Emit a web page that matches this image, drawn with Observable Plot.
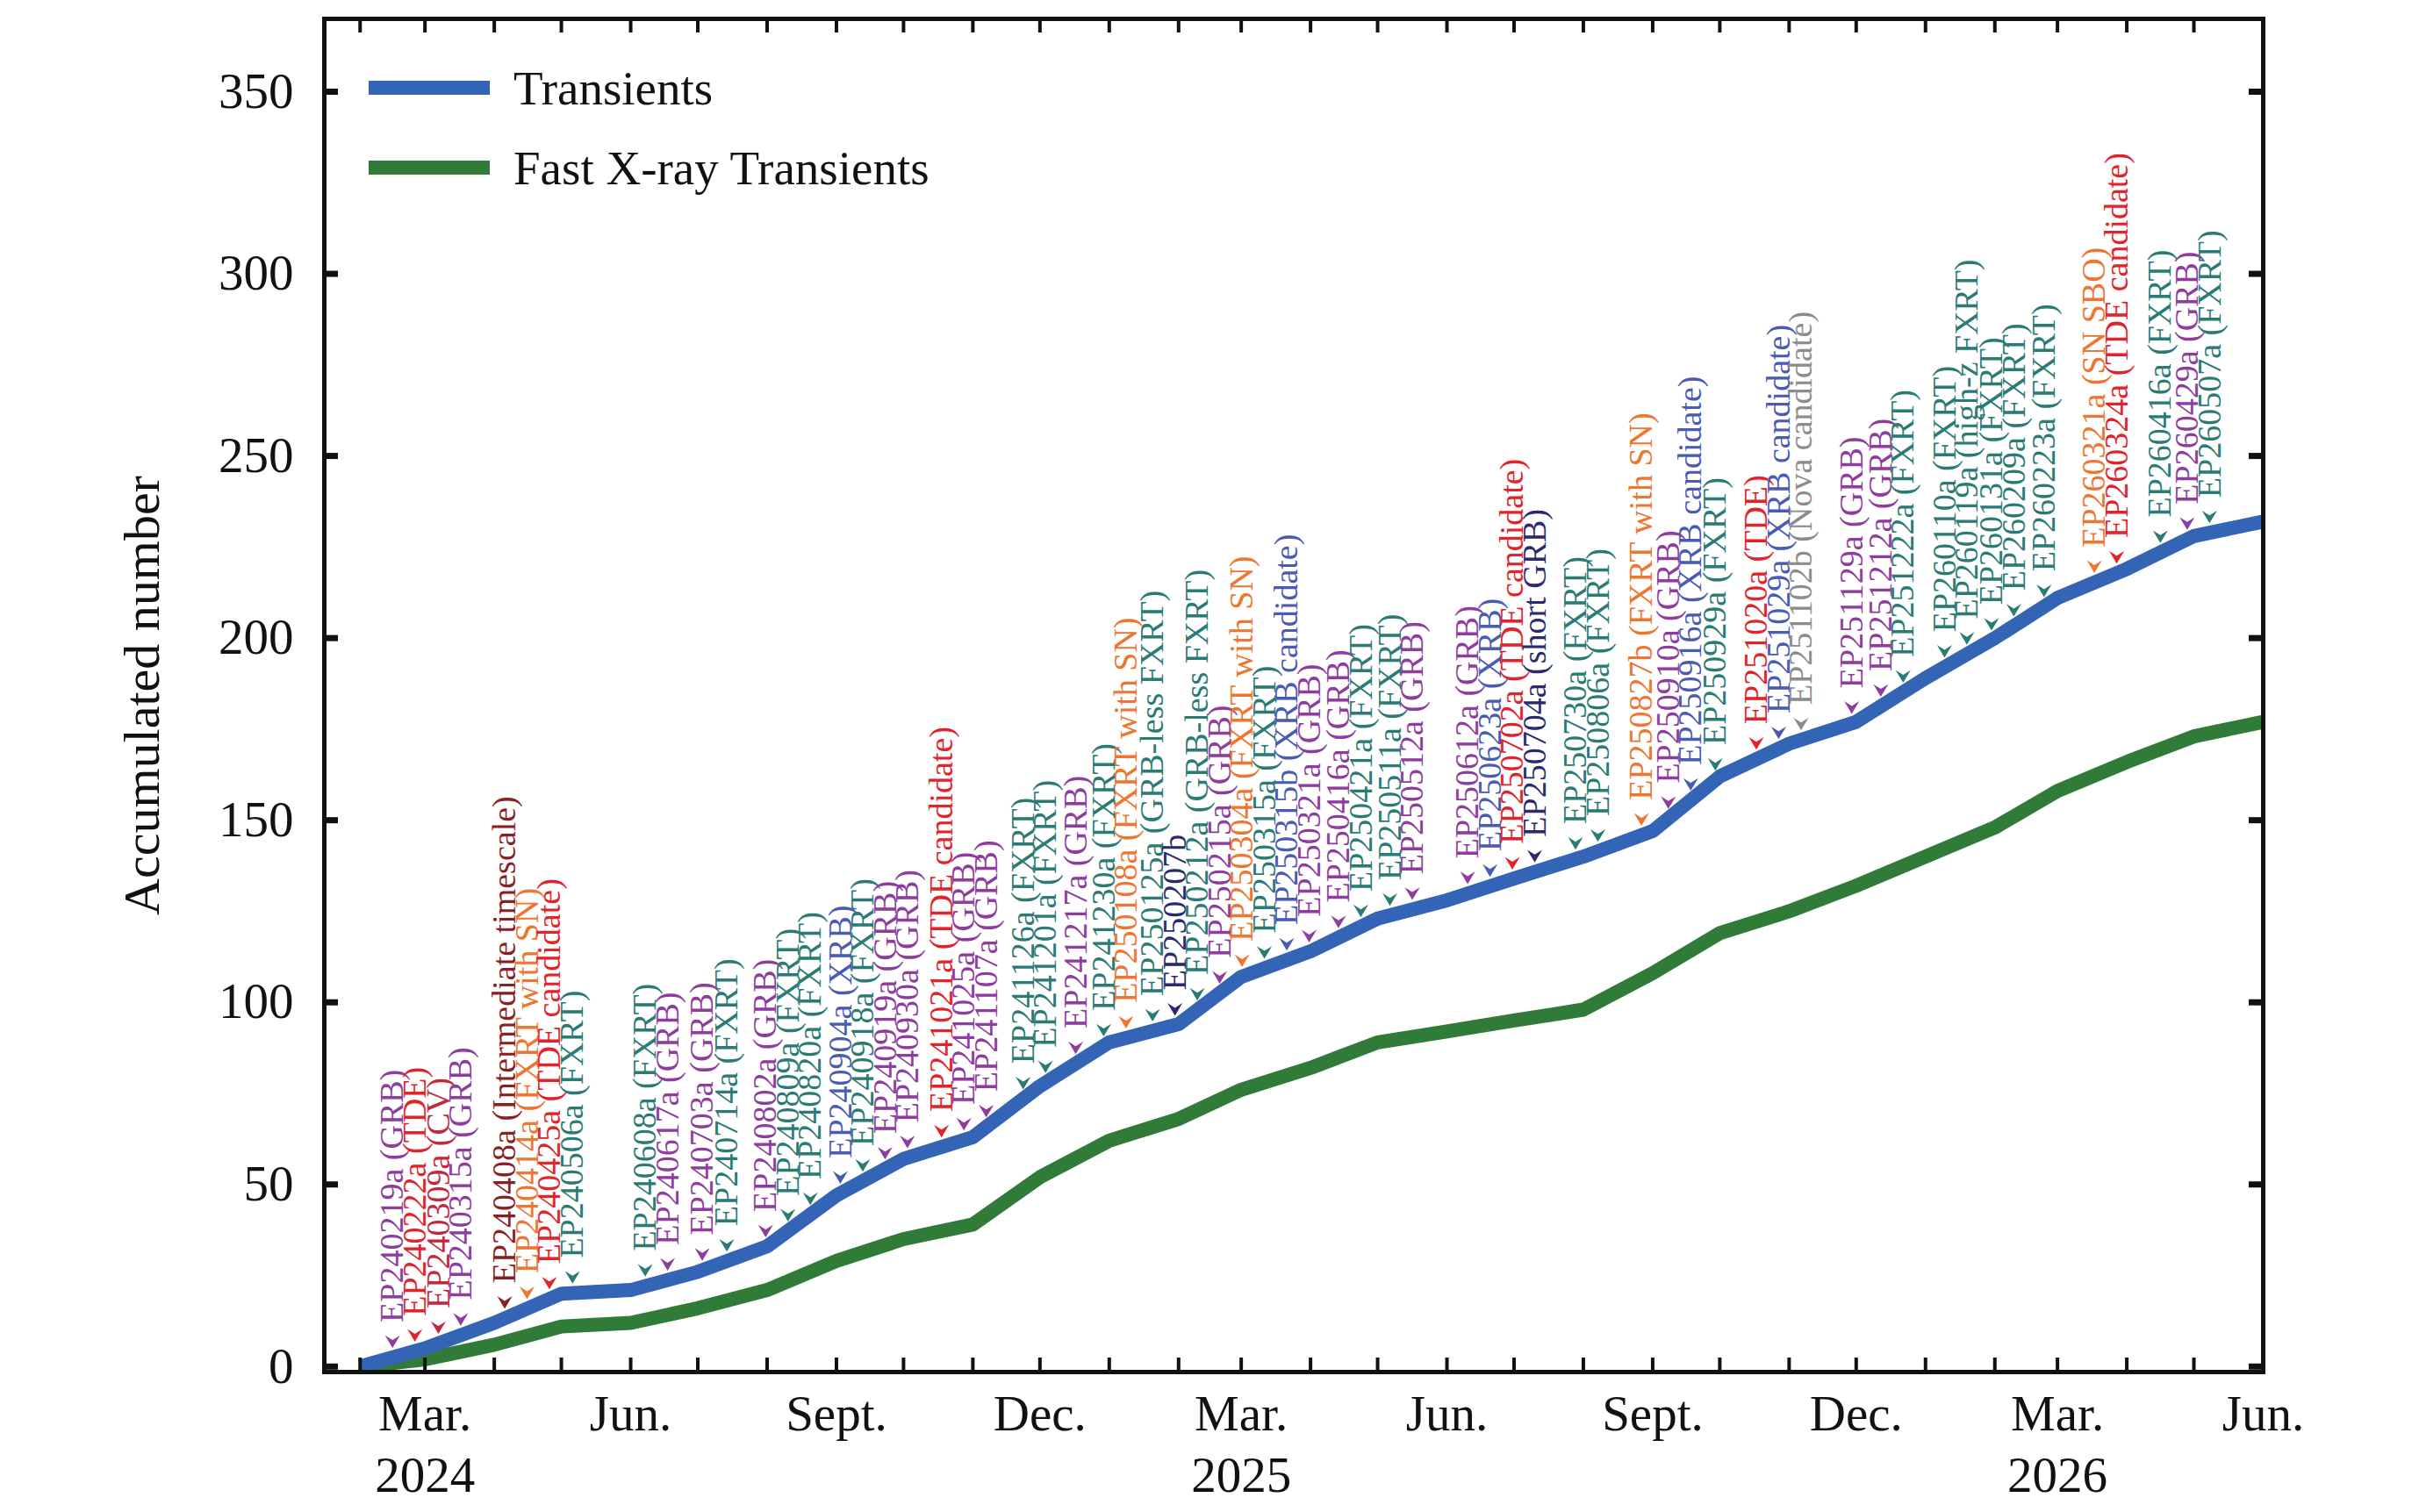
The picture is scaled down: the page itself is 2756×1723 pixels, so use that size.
<!DOCTYPE html>
<html><head><meta charset="utf-8">
<script src="https://cdn.jsdelivr.net/npm/d3@7"></script>
<script src="https://cdn.jsdelivr.net/npm/@observablehq/plot@0.6"></script>
<style>
html,body{margin:0;padding:0;background:#fff;}
#chart svg{display:block;}
</style>
</head><body><div id="chart"></div>
<script>
// ---- data ----
const months = ["2024-02-01","2024-03-01","2024-04-01","2024-05-01","2024-06-01","2024-07-01","2024-08-01","2024-09-01","2024-10-01","2024-11-01","2024-12-01",
  "2025-01-01","2025-02-01","2025-03-01","2025-04-01","2025-05-01","2025-06-01","2025-07-01","2025-08-01","2025-09-01","2025-10-01","2025-11-01","2025-12-01",
  "2026-01-01","2026-02-01","2026-03-01","2026-04-01","2026-05-01","2026-06-01"];
const transients = [0,5,12,20,21,26,33,47,57,63,77,89,94,107,114,123,128,134,140,147,162,171,177,189,200,211,219,228,232];
const fastXray   = [0,2,6,11,12,16,21,29,35,39,52,62,68,76,82,89,92,95,98,108,119,125,132,140,148,158,166,173,177];

const eventNames = ["EP240219a","EP240222a","EP240309a","EP240315a","EP240408a","EP240414a","EP240425a","EP240506a","EP240608a","EP240617a",
  "EP240703a","EP240714a","EP240802a","EP240809a","EP240820a","EP240904a","EP240918a","EP240919a","EP240930a","EP241021a",
  "EP241025a","EP241107a","EP241126a","EP241201a","EP241217a","EP241230a","EP250108a","EP250125a","EP250207b","EP250212a",
  "EP250215a","EP250304a","EP250315a","EP250315b","EP250321a","EP250416a","EP250421a","EP250511a","EP250512a","EP250612a",
  "EP250623a","EP250702a","EP250704a","EP250730a","EP250806a","EP250827b","EP250910a","EP250916a","EP250929a","EP251020a",
  "EP251029a","EP251102b","EP251129a","EP251212a","EP251222a","EP260110a","EP260119a","EP260131a","EP260209a","EP260223a",
  "EP260321a","EP260324a","EP260416a","EP260429a","EP260507a"];
const eventTypes = ["GRB","TDE","CV","GRB","Intermediate timescale","FXRT with SN","TDE candidate","FXRT","FXRT","GRB",
  "GRB","FXRT","GRB","FXRT","FXRT","XRB","FXRT","GRB","GRB","TDE candidate",
  "GRB","GRB","FXRT","FXRT","GRB","FXRT","FXRT with SN","GRB-less FXRT","","GRB-less FXRT",
  "GRB","FXRT with SN","FXRT","XRB candidate","GRB","GRB","FXRT","FXRT","GRB","GRB",
  "XRB","TDE candidate","short GRB","FXRT","FXRT","FXRT with SN","GRB","XRB candidate","FXRT","TDE",
  "XRB candidate","Nova candidate","GRB","GRB","FXRT","FXRT","high-z FXRT","FXRT","FXRT","FXRT",
  "SN SBO","TDE candidate","FXRT","GRB","FXRT"];

const typeColors = {
  "GRB":"#8e3d9e","FXRT":"#2a7b74","GRB-less FXRT":"#2a7b74","high-z FXRT":"#2a7b74",
  "TDE":"#e3232a","TDE candidate":"#e3232a","FXRT with SN":"#ee7630","SN SBO":"#ee7630",
  "XRB":"#4a5bb3","XRB candidate":"#4a5bb3","short GRB":"#2c2a6e","":"#2c2a6e",
  "CV":"#c12a3e","Intermediate timescale":"#8a1f25","Nova candidate":"#8c8c8c"
};

const yTicks = [0,50,100,150,200,250,300,350];
const quarterTicks = ["2024-03-01","2024-06-01","2024-09-01","2024-12-01","2025-03-01","2025-06-01","2025-09-01","2025-12-01","2026-03-01","2026-06-01"];
const quarterLabels = ["Mar.","Jun.","Sept.","Dec.","Mar.","Jun.","Sept.","Dec.","Mar.","Jun."];
const yearTicks = ["2024-03-01","2025-03-01","2026-03-01"];
const yearLabels = ["2024","2025","2026"];
const legendLabels = ["Transients","Fast X-ray Transients"];
const seriesColors = ["#3464b6","#2f7b37"];

// ---- build ----
const parse = s => new Date(s + "T00:00:00Z");
const monthDates = months.map(parse);
const rowsF = monthDates.map((d,i)=>({date:d, value:fastXray[i]}));
const rowsT = monthDates.map((d,i)=>({date:d, value:transients[i]}));
const interpBlue = d3.scaleUtc(monthDates, transients);

// spread crowded labels symmetrically (min spacing, least displacement)
const DAY = 864e5, minGap = 10*DAY;
const rawDates = eventNames.map(n => Date.UTC(2000 + +n.slice(2,4), +n.slice(4,6)-1, +n.slice(6,8)));
function pav(q){
  const blocks=[];
  for (const v of q){
    blocks.push({sum:v, n:1});
    while (blocks.length>1 && blocks[blocks.length-2].sum/blocks[blocks.length-2].n > blocks[blocks.length-1].sum/blocks[blocks.length-1].n){
      const b = blocks.pop(); blocks[blocks.length-1].sum += b.sum; blocks[blocks.length-1].n += b.n;
    }
  }
  const out=[]; for (const b of blocks) for (let k=0;k<b.n;k++) out.push(b.sum/b.n);
  return out;
}
const fitted = pav(rawDates.map((d,i)=> d - i*minGap)).map((v,i)=> v + i*minGap);
const events = eventNames.map((n,i)=>{
  const pos = new Date(fitted[i]);
  const t = eventTypes[i];
  return {pos, yv: interpBlue(pos), label: t ? `${n} (${t})` : n, color: typeColors[t]};
});

const qMap = new Map(quarterTicks.map((s,i)=>[+parse(s), quarterLabels[i]]));
const yMap = new Map(yearTicks.map((s,i)=>[+parse(s), yearLabels[i]]));

const chevron = {draw(ctx, size){ const r = Math.sqrt(size/Math.PI);
  ctx.moveTo(0, 0.8*r); ctx.lineTo(-0.95*r, -0.8*r); ctx.lineTo(0, -0.2*r); ctx.lineTo(0.95*r, -0.8*r); ctx.closePath(); }};

const W=2756, H=1723, mL=369, mR=178, mT=21, mB=160;
const plotW = W-mL-mR, plotH = H-mT-mB;
const font = "'Liberation Serif','Times New Roman',serif";

const svg = Plot.plot({
  width: W, height: H, marginLeft: mL, marginRight: mR, marginTop: mT, marginBottom: mB,
  style: {fontFamily: font, background: "#fff", color: "#111", overflow: "visible"},
  x: {type: "utc", domain: [new Date(Date.UTC(2024,0,16)), parse("2026-06-01")]},
  y: {domain: [-1.5, 370]},
  marks: [
    Plot.line(rowsF, {x:"date", y:"value", stroke: seriesColors[1], strokeWidth:16, strokeLinejoin:"round", strokeLinecap:"butt"}),
    Plot.line(rowsT, {x:"date", y:"value", stroke: seriesColors[0], strokeWidth:16, strokeLinejoin:"round", strokeLinecap:"butt"}),
    Plot.dot(events, {x:"pos", y:"yv", symbol: chevron, r: 9, fill: "color", stroke: null, dy: -18}),
    Plot.text(events, {x:"pos", y:"yv", text:"label", rotate:-90, textAnchor:"start", fill:"color", fontSize:38, dy:-40}),
    Plot.tickX(monthDates, {x: d=>d, insetTop: plotH - 16, strokeWidth: 4, stroke: "#111"}),
    Plot.tickX(monthDates, {x: d=>d, insetBottom: plotH - 16, strokeWidth: 4, stroke: "#111"}),
    Plot.tickY(yTicks, {y: d=>d, insetRight: plotW - 16, strokeWidth: 7, stroke: "#111"}),
    Plot.tickY(yTicks, {y: d=>d, insetLeft: plotW - 16, strokeWidth: 7, stroke: "#111"}),
    Plot.frame({stroke:"#111", strokeWidth:5}),
    Plot.axisY({ticks: yTicks, tickSize: 0, tickPadding: 35, fontSize: 57, label: null}),
    Plot.axisX({ticks: quarterTicks.map(parse), tickFormat: d => qMap.get(+d), tickSize: 0, tickPadding: 26, fontSize: 57, label: null}),
    Plot.axisX({ticks: yearTicks.map(parse), tickFormat: d => yMap.get(+d), tickSize: 0, tickPadding: 96, fontSize: 57, label: null}),
    Plot.text(["Accumulated number"], {frameAnchor: "left", textAnchor: "middle", rotate: -90, dx: -207, fontSize: 58})
  ]
});

// legend inside the frame
const lg = d3.select(svg).append("g").attr("font-family", font).attr("font-size", 55).attr("text-anchor","start");
legendLabels.forEach((lab,i)=>{
  const y = 100 + i*91;
  lg.append("line").attr("x1", mL+51).attr("x2", mL+189).attr("y1", y).attr("y2", y)
    .attr("stroke", seriesColors[i]).attr("stroke-width", 16);
  lg.append("text").attr("x", mL+216).attr("y", y).attr("dy","0.35em").attr("fill","#111").text(lab);
});

document.getElementById("chart").append(svg);
</script>
</body></html>
